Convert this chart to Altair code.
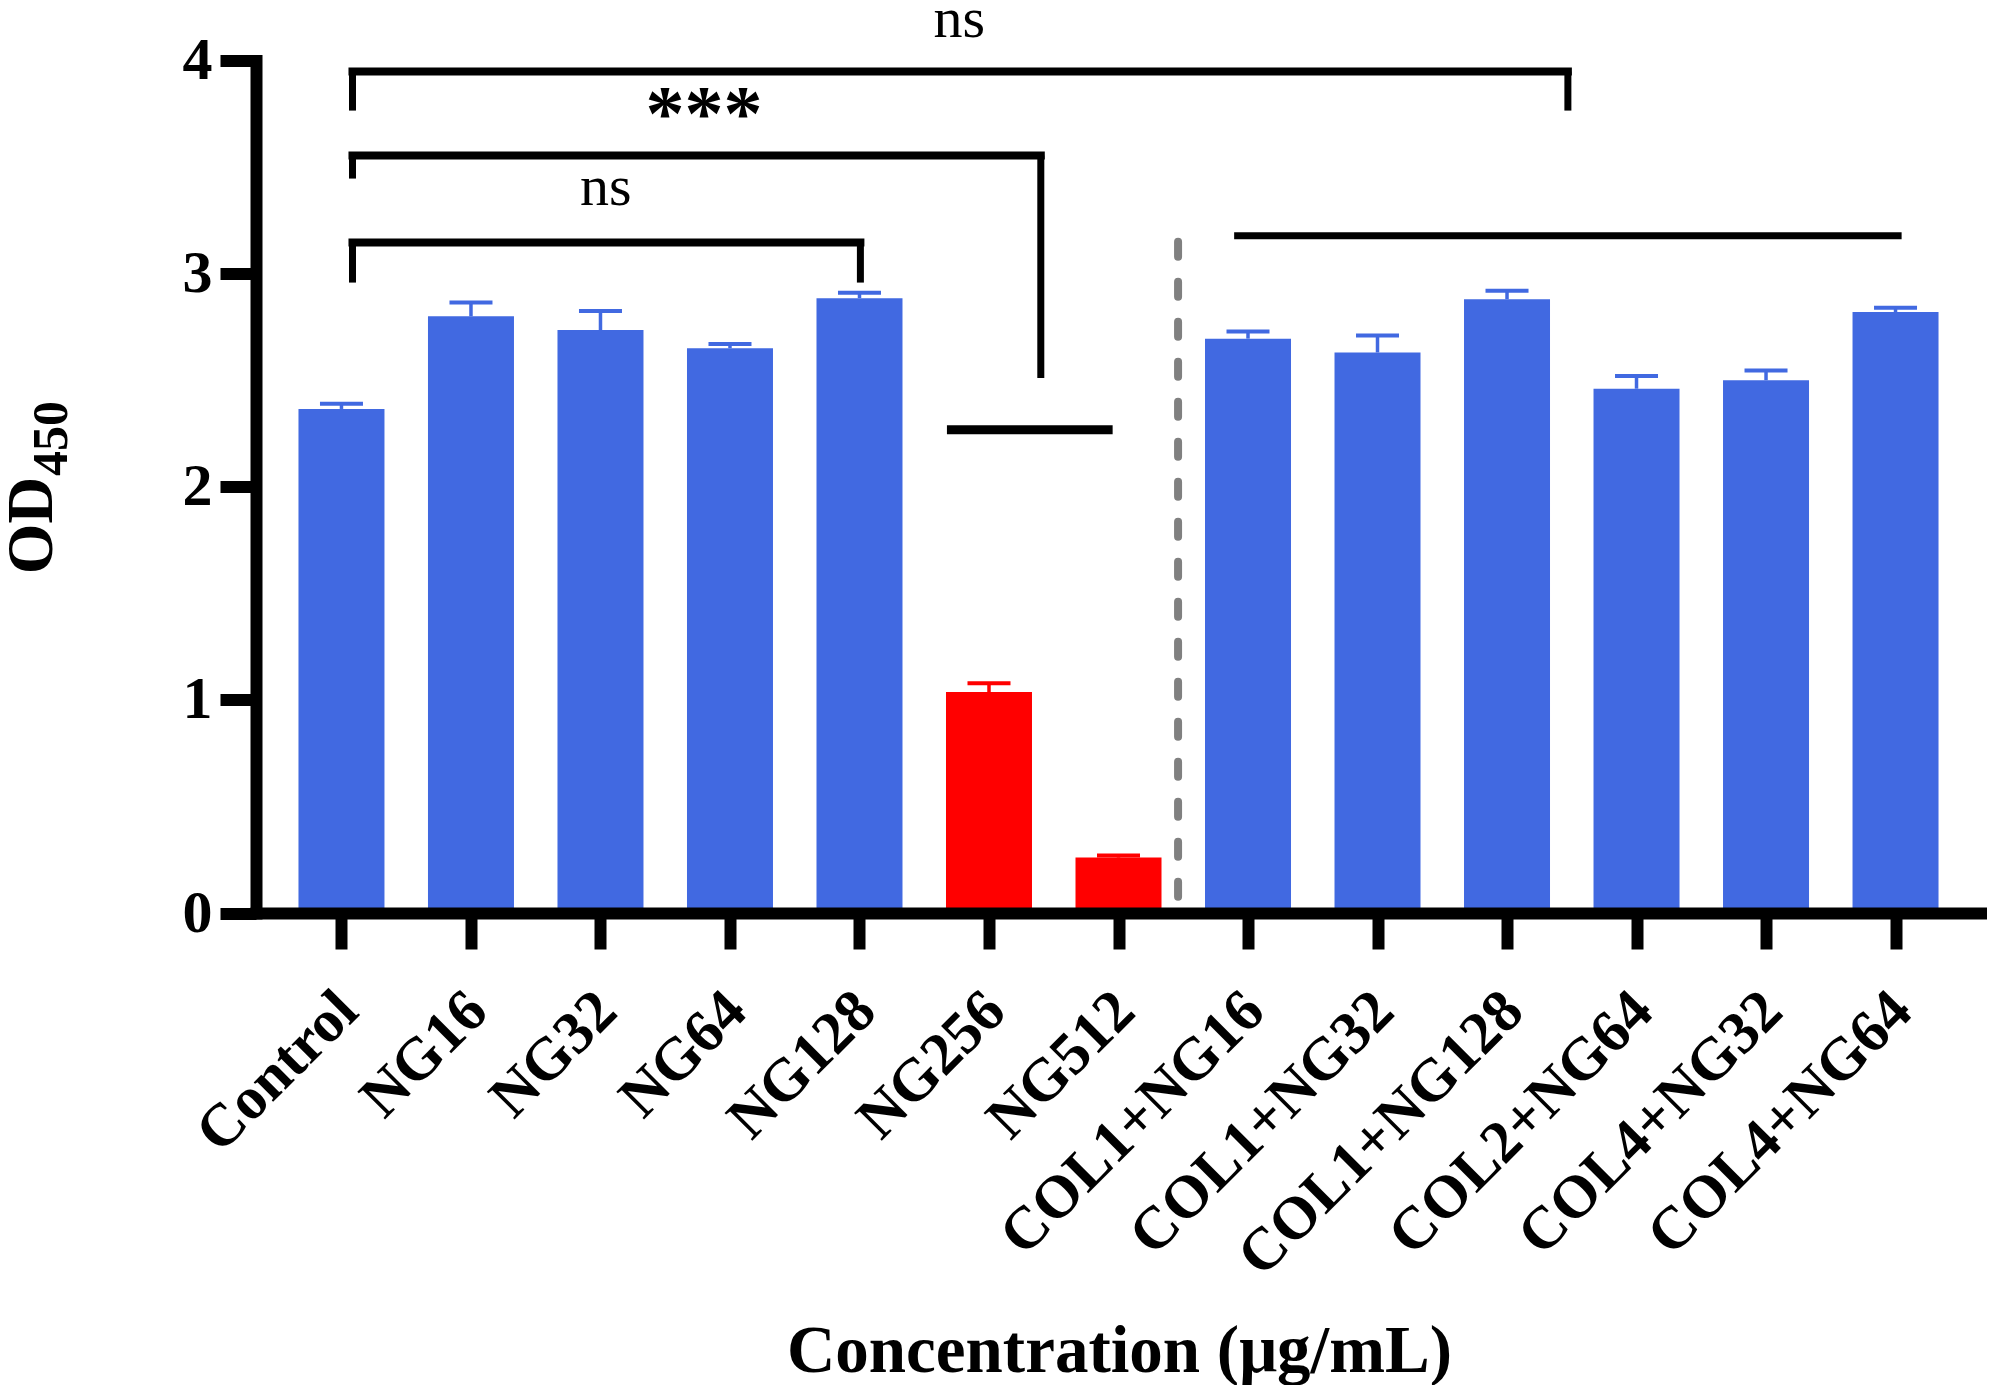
import json
import altair as alt
import pandas as pd

categories = ["Control", "NG16", "NG32", "NG64", "NG128", "NG256", "NG512",
              "COL1+NG16", "COL1+NG32", "COL1+NG128", "COL2+NG64", "COL4+NG32", "COL4+NG64"]
means = [2.365, 2.80, 2.735, 2.65, 2.885, 1.037, 0.26, 2.695, 2.63, 2.88, 2.46, 2.50, 2.82]
uppers = [2.39, 2.865, 2.825, 2.67, 2.91, 1.078, 0.27, 2.728, 2.71, 2.92, 2.52, 2.545, 2.84]
groups = ["Viable", "Viable", "Viable", "Viable", "Viable", "Reduced", "Reduced",
          "Viable", "Viable", "Viable", "Viable", "Viable", "Viable"]

# horizontal segments: start, end, level, thickness
h_x = [0.085, 0.085, 0.085, 4.71, 6.92]
h_x2 = [9.47, 5.40, 4.007, 5.92, 12.02]
h_y = [3.948, 3.554, 3.146, 2.267, 3.178]
h_w = [8, 8, 8, 9, 7]
# vertical drops: position, from, to
v_x = [0.085, 9.47, 0.085, 5.40, 0.085, 4.007]
v_y = [3.948, 3.948, 3.554, 3.554, 3.146, 3.146]
v_y2 = [3.765, 3.765, 3.446, 2.51, 2.958, 2.958]
# significance labels
sig_x = [4.77, 2.04]
sig_y = [4.19, 3.40]
sig_text = ["ns", "ns"]
star_x = [2.80]
star_y = [3.74]
star_text = ["***"]
# divider
div_x = [6.46]
div_y = [3.15]
div_y2 = [0.075]

FONT = "Liberation Serif"
BLUE = "#4169E1"
RED = "#FF0000"

df = pd.DataFrame({"i": list(range(len(categories))), "name": categories, "mean": means,
                   "upper": uppers, "group": groups})
labels_js = json.dumps(categories)

xs = alt.Scale(domain=[-0.66, 12.66], nice=False, zero=False, padding=0)
ys = alt.Scale(domain=[0, 4], nice=False)
color = alt.Color("group:N", scale=alt.Scale(domain=["Viable", "Reduced"], range=[BLUE, RED]), legend=None)

x_axis = alt.Axis(values=list(range(len(categories))), labelExpr=f"{labels_js}[datum.value]",
                  title="Concentration (μg/mL)", titleFont=FONT, titleFontWeight="bold", titleFontSize=67,
                  titleX=863, titleY=458, titleAlign="center", titleBaseline="alphabetic", titleColor="black",
                  labelFont=FONT, labelFontWeight="bold", labelFontSize=60, labelAngle=315, labelAlign="right",
                  labelBaseline="middle", labelPadding=52, labelOffset=6, labelColor="black", labelOverlap=False,
                  labelLimit=1000, labelBound=False, labelFlush=False,
                  domainWidth=12, domainColor="black", domainCap="square",
                  tickWidth=12, tickSize=36, tickColor="black", grid=False, zindex=1)
y_axis = alt.Axis(values=[0, 1, 2, 3, 4], title=None, format="d",
                  labelFont=FONT, labelFontWeight="bold", labelFontSize=60, labelPadding=8, labelColor="black",
                  labelOverlap=False, labelBound=False, labelFlush=False,
                  domainWidth=12, domainColor="black", domainCap="square",
                  tickWidth=12, tickSize=36, tickColor="black", grid=False, zindex=1)

X = alt.X("i:Q", scale=xs, axis=x_axis)
Y = alt.Y("mean:Q", scale=ys, axis=y_axis)

bars = alt.Chart(df).mark_bar(size=86).encode(x=X, y=Y, color=color)
stems = alt.Chart(df).mark_rule(strokeWidth=3.5).encode(x=alt.X("i:Q", scale=xs), y=alt.Y("mean:Q", scale=ys), y2="upper:Q", color=color)
caps = alt.Chart(df).mark_tick(orient="horizontal", size=43, thickness=4, opacity=1).encode(x=alt.X("i:Q", scale=xs), y=alt.Y("upper:Q", scale=ys), color=color)

hdf = pd.DataFrame({"x": h_x, "x2": h_x2, "y": h_y, "w": h_w})
hlines = alt.Chart(hdf).mark_rule(color="black", strokeCap="square").encode(
    x=alt.X("x:Q", scale=xs), x2="x2:Q", y=alt.Y("y:Q", scale=ys),
    strokeWidth=alt.StrokeWidth("w:Q", scale=None))
vdf = pd.DataFrame({"x": v_x, "y": v_y, "y2": v_y2})
vlines = alt.Chart(vdf).mark_rule(color="black", strokeWidth=7).encode(
    x=alt.X("x:Q", scale=xs), y=alt.Y("y:Q", scale=ys), y2="y2:Q")
ddf = pd.DataFrame({"x": div_x, "y": div_y, "y2": div_y2})
divider = alt.Chart(ddf).mark_rule(color="#808080", strokeWidth=8, strokeDash=[15, 25], strokeCap="round").encode(
    x=alt.X("x:Q", scale=xs), y=alt.Y("y:Q", scale=ys), y2="y2:Q")

sdf = pd.DataFrame({"x": sig_x, "y": sig_y, "t": sig_text})
sig = alt.Chart(sdf).mark_text(font=FONT, fontSize=58, color="black", baseline="middle", align="center").encode(
    x=alt.X("x:Q", scale=xs), y=alt.Y("y:Q", scale=ys), text="t:N")
stdf = pd.DataFrame({"x": star_x, "y": star_y, "t": star_text})
stars = alt.Chart(stdf).mark_text(font=FONT, fontWeight="bold", fontSize=78, color="black", baseline="middle", align="center").encode(
    x=alt.X("x:Q", scale=xs), y=alt.Y("y:Q", scale=ys), text="t:N")

od = alt.Chart(pd.DataFrame({"t": ["OD"]})).mark_text(font=FONT, fontWeight="bold", fontSize=65, angle=270,
        align="center", baseline="alphabetic", color="black").encode(x=alt.value(-204), y=alt.value(465), text="t:N")
sub = alt.Chart(pd.DataFrame({"t": ["450"]})).mark_text(font=FONT, fontWeight="bold", fontSize=50, angle=270,
        align="center", baseline="alphabetic", color="black").encode(x=alt.value(-189), y=alt.value(378), text="t:N")

chart = alt.layer(bars, stems, caps, divider, hlines, vlines, sig, stars, od, sub).properties(
    width=1725, height=852.5,
    background="white",
    autosize=alt.AutoSizeParams(type="none"),
    padding={"left": 248, "top": 52.5, "right": 6, "bottom": 472},
).configure_view(stroke=None)

chart.save("out.html", embed_options={"renderer": "svg", "actions": False})
